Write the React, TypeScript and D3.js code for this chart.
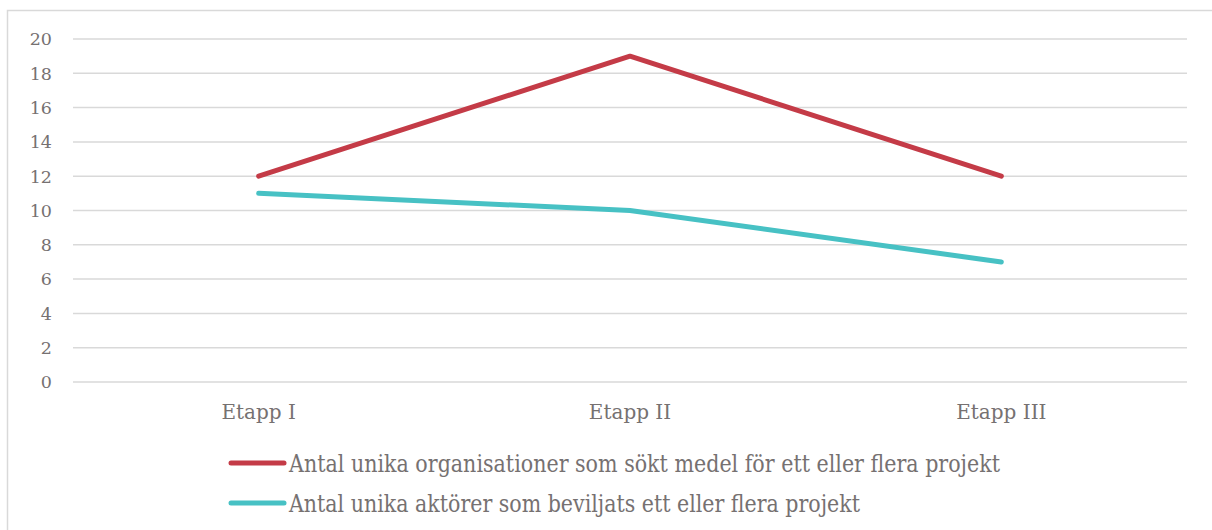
import React from "react";
import * as d3 from "d3";

const categories = ["Etapp I", "Etapp II", "Etapp III"];
const seriesNames = [
  "Antal unika organisationer som sökt medel för ett eller flera projekt",
  "Antal unika aktörer som beviljats ett eller flera projekt",
];
const soktValues = [12, 19, 12];
const beviljatsValues = [11, 10, 7];
const yTicks = [0, 2, 4, 6, 8, 10, 12, 14, 16, 18, 20];
const colors = ["#C43B47", "#47C1C4"];
const legendWidths = [711, 571];

const W = 1212;
const H = 530;
const FONT = "DejaVu Serif";
const TEXT = "#767171";

export default function App() {
  const x = d3.scaleBand<string>().domain(categories).range([73, 1187]);
  const y = d3.scaleLinear().domain([0, 20]).range([382, 39]);
  const line = d3
    .line<number>()
    .x((_, i) => (x(categories[i]) as number) + x.bandwidth() / 2)
    .y((d) => y(d));
  const series = [soktValues, beviljatsValues];

  return (
    <div style={{ position: "absolute", left: 0, top: 0 }}>
      <svg width={W} height={H} style={{ display: "block" }}>
        <rect x={0} y={0} width={W} height={H} fill="#fff" />
        <rect x={7.5} y={10.5} width={W + 20} height={H + 20} fill="none" stroke="#d9d9d9" strokeWidth={1.5} />
        {yTicks.map((t) => (
          <g key={t}>
            <line x1={73} x2={1187} y1={y(t)} y2={y(t)} stroke="#d9d9d9" strokeWidth={1.5} />
            <text
              x={52}
              y={y(t)}
              dy="0.36em"
              textAnchor="end"
              fontFamily={FONT}
              fontSize={17.5}
              fill={TEXT}
            >
              {t}
            </text>
          </g>
        ))}
        {categories.map((c) => (
          <text
            key={c}
            x={(x(c) as number) + x.bandwidth() / 2}
            y={419}
            textAnchor="middle"
            fontFamily={FONT}
            fontSize={20}
            fill={TEXT}
          >
            {c}
          </text>
        ))}
        {series.map((s, i) => (
          <path
            key={i}
            d={line(s) as string}
            fill="none"
            stroke={colors[i]}
            strokeWidth={5}
            strokeLinecap="round"
            strokeLinejoin="round"
          />
        ))}
        {seriesNames.map((n, i) => {
          const ly = 463 + i * 40;
          return (
            <g key={n}>
              <line x1={231} x2={284} y1={ly} y2={ly} stroke={colors[i]} strokeWidth={5} strokeLinecap="round" />
              <text
                x={289}
                y={ly + 1}
                dy="0.36em"
                fontFamily={FONT}
                fontSize={23.5}
                fill={TEXT}
                textLength={legendWidths[i]}
                lengthAdjust="spacingAndGlyphs"
              >
                {n}
              </text>
            </g>
          );
        })}
      </svg>
    </div>
  );
}
